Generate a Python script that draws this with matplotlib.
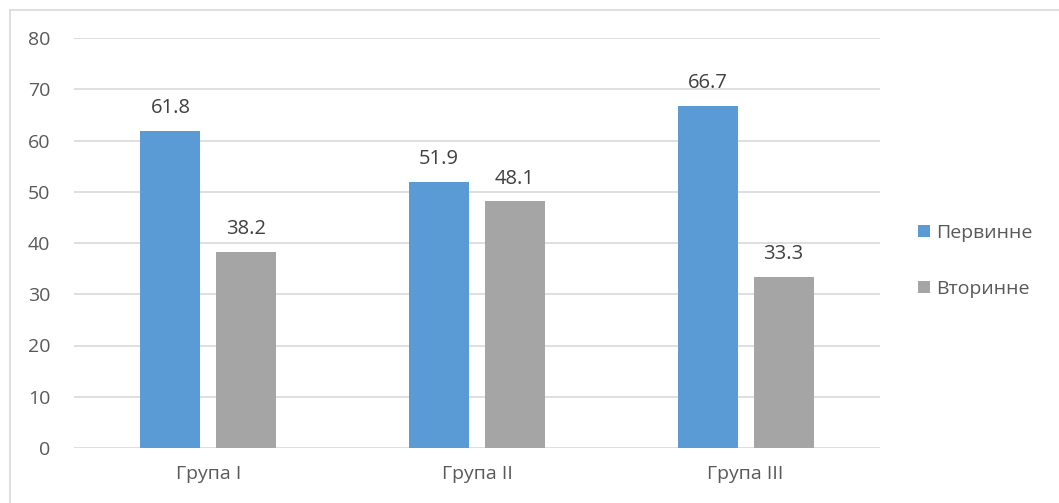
import matplotlib.pyplot as plt
import numpy as np
from matplotlib.lines import Line2D

groups = ['Група I', 'Група II', 'Група III']
primary = [61.8, 51.9, 66.7]
secondary = [38.2, 48.1, 33.3]
series_names = ['Первинне', 'Вторинне']

plt.rcParams['font.family'] = ['Open Sans', 'DejaVu Sans']

W, H = 1059, 503
fig = plt.figure(figsize=(W / 100, H / 100), dpi=100)
ax = fig.add_axes([74 / W, (H - 448) / H, (880 - 74) / W, (448 - 38) / H])

x = np.arange(len(groups))
bw = 0.223
off = 0.141
b1 = ax.bar(x - off, primary, bw, color='#5b9bd5', label=series_names[0], zorder=3)
b2 = ax.bar(x + off, secondary, bw, color='#a5a5a5', label=series_names[1], zorder=3)

for bars, vals in ((b1, primary), (b2, secondary)):
    for r, v in zip(bars, vals):
        ax.text(r.get_x() + r.get_width() / 2, v + 3.5, f'{v:.1f}',
                ha='center', va='baseline', fontsize=14.5, color='#404040')

ax.set_xlim(-0.5, 2.5)
ax.set_ylim(0, 80)
ax.set_yticks(range(0, 81, 10))
ax.set_xticks(x)
ax.set_xticklabels(groups)
ax.grid(axis='y', color='#d9d9d9', linewidth=1.2, zorder=0)
for s in ax.spines.values():
    s.set_visible(False)
ax.tick_params(axis='both', length=0, labelsize=14, colors='#595959')
ax.tick_params(axis='y', pad=17)
ax.tick_params(axis='x', pad=12)

ax.legend(loc='center left', bbox_to_anchor=(1.047, 0.457), frameon=False,
          fontsize=14, handlelength=0.6, handleheight=0.6, labelspacing=1.95,
          handletextpad=0.35, borderpad=0, borderaxespad=0, labelcolor='#595959')

# outer chart border
fig.add_artist(Line2D([10 / W, 10 / W], [0, 1 - 10 / H], color='#d9d9d9', lw=1.2))
fig.add_artist(Line2D([10 / W, 1], [1 - 10 / H, 1 - 10 / H], color='#d9d9d9', lw=1.2))

fig.savefig('out.png', dpi=100, facecolor='white')
